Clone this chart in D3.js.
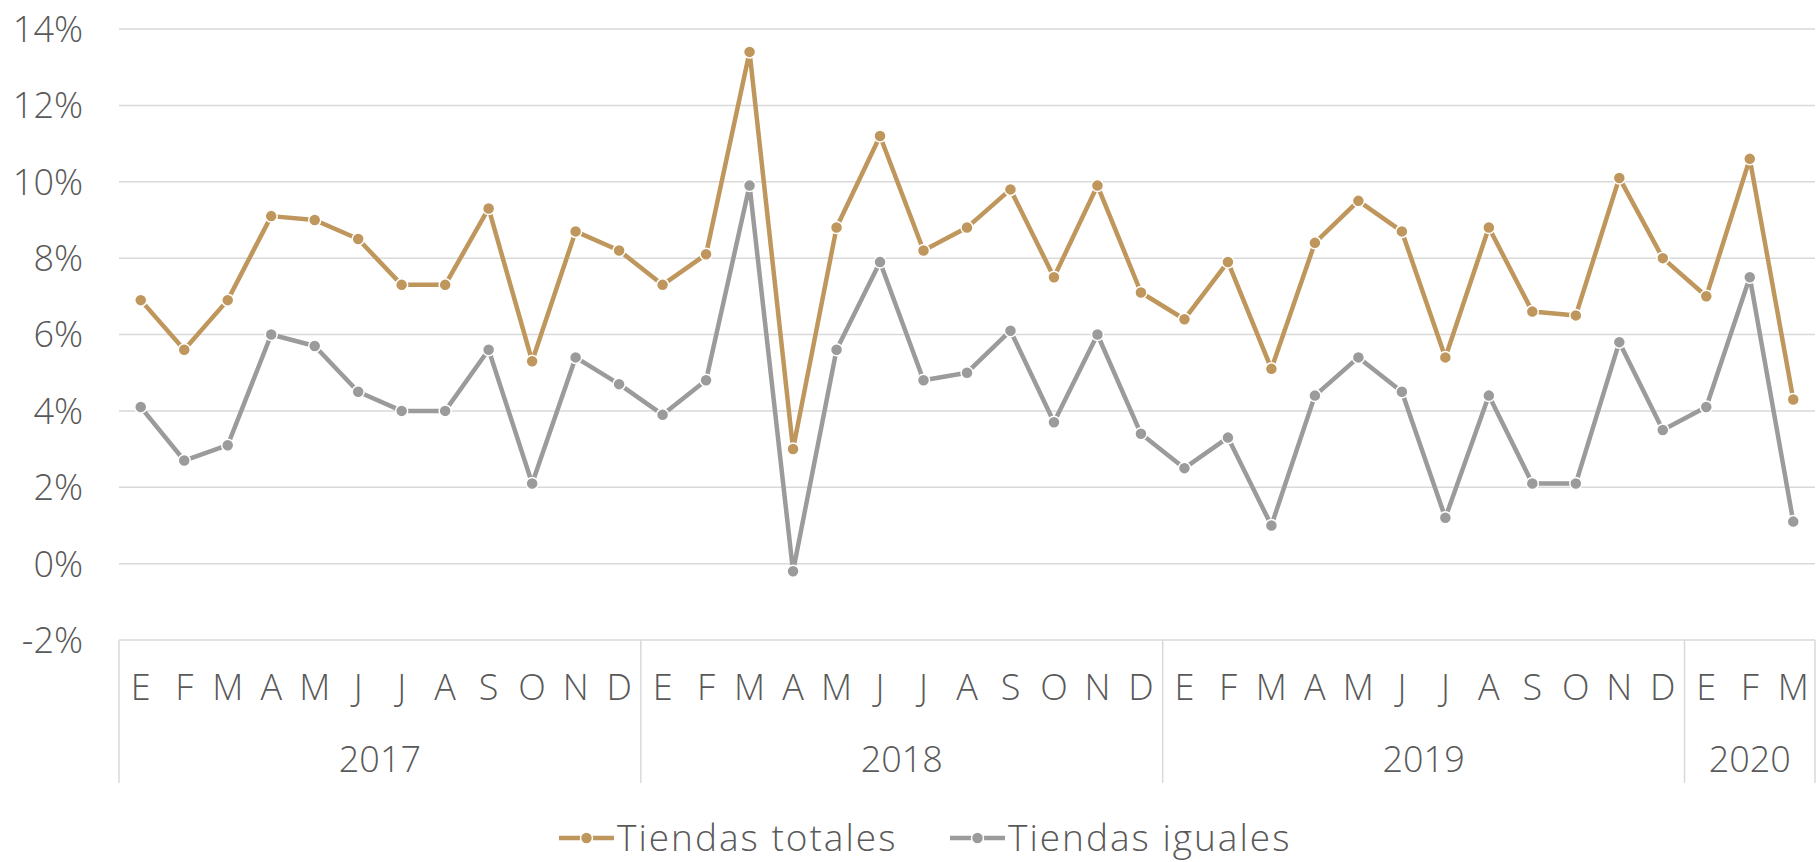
<!DOCTYPE html>
<html>
<head>
<meta charset="utf-8">
<script src="https://cdn.jsdelivr.net/npm/d3@7"></script>
<style>
  body { margin: 0; background: #fff; }
  svg text { font-family: "Open Sans", Lato, sans-serif; font-weight: 300; fill: #595959; }
</style>
</head>
<body>
<svg class="chart" width="1816" height="862"></svg>
<script>
// month letters and years
var months = ["E","F","M","A","M","J","J","A","S","O","N","D"];
var years = [
    {year: "2017", n: 12},
    {year: "2018", n: 12},
    {year: "2019", n: 12},
    {year: "2020", n: 3}
];
var yTicks = [-2, 0, 2, 4, 6, 8, 10, 12, 14];

// monthly growth, %
var totales = [6.9,5.6,6.9,9.1,9.0,8.5,7.3,7.3,9.3,5.3,8.7,8.2,
               7.3,8.1,13.4,3.0,8.8,11.2,8.2,8.8,9.8,7.5,9.9,7.1,
               6.4,7.9,5.1,8.4,9.5,8.7,5.4,8.8,6.6,6.5,10.1,8.0,
               7.0,10.6,4.3];
var iguales = [4.1,2.7,3.1,6.0,5.7,4.5,4.0,4.0,5.6,2.1,5.4,4.7,
               3.9,4.8,9.9,-0.2,5.6,7.9,4.8,5.0,6.1,3.7,6.0,3.4,
               2.5,3.3,1.0,4.4,5.4,4.5,1.2,4.4,2.1,2.1,5.8,3.5,
               4.1,7.5,1.1];

var series = [
    {name: "Tiendas totales", values: totales, color: "#BF965C"},
    {name: "Tiendas iguales", values: iguales, color: "#9B9B9B"}
];

// category list built from the years table
var cats = [];
years.forEach(function(y) {
    for (var i = 0; i < y.n; i++) cats.push({key: y.year + "-" + i, month: months[i], year: y.year});
});

var svg = d3.select("svg.chart");
var plotLeft = 119, plotRight = 1815, plotTop = 29, plotBottom = 640;

var x = d3.scaleBand()
    .domain(cats.map(function(d) { return d.key; }))
    .range([plotLeft, plotRight]);

var y = d3.scaleLinear()
    .domain([-2, 14])
    .range([plotBottom, plotTop]);

var gridColor = "#D9D9D9";

// gridlines
svg.append("g").selectAll("line")
    .data(yTicks)
    .enter()
    .append("line")
    .attr("x1", plotLeft)
    .attr("x2", plotRight)
    .attr("y1", function(d) { return y(d); })
    .attr("y2", function(d) { return y(d); })
    .attr("stroke", gridColor)
    .attr("stroke-width", 1.5);

// y labels
svg.append("g").selectAll("text")
    .data(yTicks)
    .enter()
    .append("text")
    .attr("x", 83)
    .attr("y", function(d) { return y(d); })
    .attr("dy", "0.36em")
    .attr("text-anchor", "end")
    .style("font-size", "36px")
    .text(function(d) { return d + "%"; });

// category axis: separators between years
var sepX = [plotLeft];
var k = 0;
years.forEach(function(yr) {
    k += yr.n;
    sepX.push(k < cats.length ? x(cats[k].key) : plotRight);
});
svg.append("g").selectAll("line")
    .data(sepX)
    .enter()
    .append("line")
    .attr("x1", function(d) { return d; })
    .attr("x2", function(d) { return d; })
    .attr("y1", plotBottom)
    .attr("y2", 783)
    .attr("stroke", gridColor)
    .attr("stroke-width", 1.5);

// month letters
svg.append("g").selectAll("text")
    .data(cats)
    .enter()
    .append("text")
    .attr("x", function(d) { return x(d.key) + x.bandwidth() / 2; })
    .attr("y", 700)
    .attr("text-anchor", "middle")
    .style("font-size", "36px")
    .text(function(d) { return d.month; });

// year labels
svg.append("g").selectAll("text")
    .data(years)
    .enter()
    .append("text")
    .attr("x", function(d, i) { return (sepX[i] + sepX[i + 1]) / 2; })
    .attr("y", 772)
    .attr("text-anchor", "middle")
    .style("font-size", "36px")
    .text(function(d) { return d.year; });

// lines and markers
var line = d3.line()
    .x(function(d, i) { return x(cats[i].key) + x.bandwidth() / 2; })
    .y(function(d) { return y(d); });

series.slice().reverse().forEach(function(s) {
    var g = svg.append("g");
    g.append("path")
        .attr("d", line(s.values))
        .attr("fill", "none")
        .attr("stroke", s.color)
        .attr("stroke-width", 4.5)
        .attr("stroke-linejoin", "round");
    g.selectAll("circle")
        .data(s.values)
        .enter()
        .append("circle")
        .attr("cx", function(d, i) { return x(cats[i].key) + x.bandwidth() / 2; })
        .attr("cy", function(d) { return y(d); })
        .attr("r", 6)
        .attr("fill", s.color)
        .attr("stroke", "#fff")
        .attr("stroke-width", 1.5);
});

// legend
var legendX = [559, 950];
var legend = svg.append("g").selectAll("g")
    .data(series)
    .enter()
    .append("g")
    .attr("transform", function(d, i) { return "translate(" + legendX[i] + ",838)"; });
legend.append("line")
    .attr("x1", 0).attr("x2", 55)
    .attr("stroke", function(d) { return d.color; })
    .attr("stroke-width", 4.5);
legend.append("circle")
    .attr("cx", 27.5)
    .attr("r", 6)
    .attr("fill", function(d) { return d.color; })
    .attr("stroke", "#fff")
    .attr("stroke-width", 1.5);
legend.append("text")
    .attr("x", 58)
    .attr("dy", "0.36em")
    .style("font-size", "37px")
    .style("letter-spacing", "2px")
    .text(function(d) { return d.name; });
</script>
</body>
</html>
